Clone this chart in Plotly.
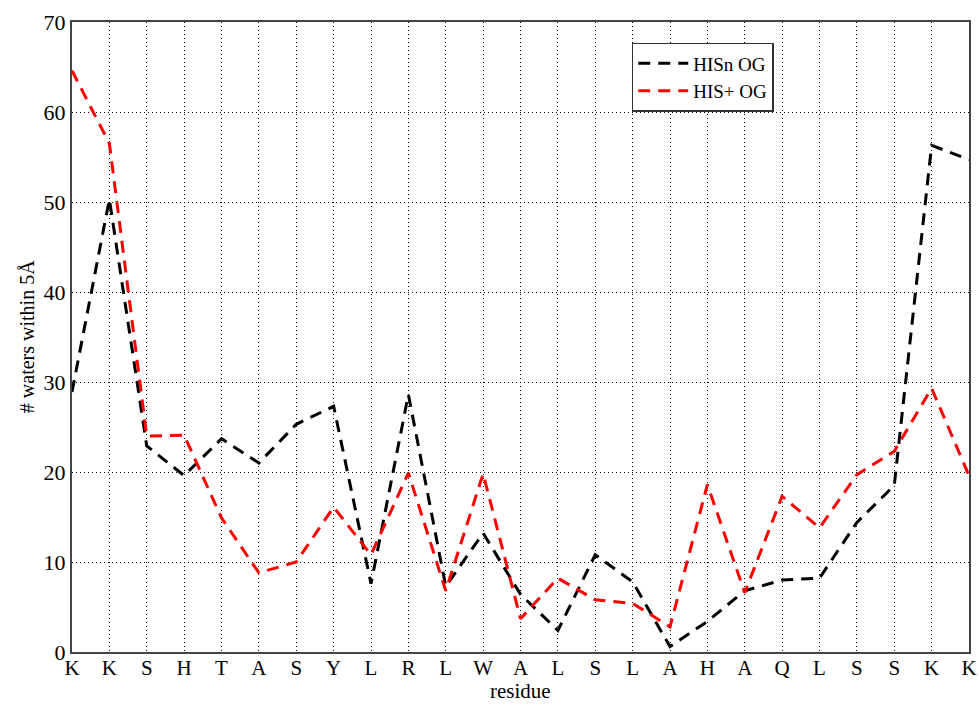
import plotly.graph_objects as go

residues = ["K", "K", "S", "H", "T", "A", "S", "Y", "L", "R", "L", "W", "A",
            "L", "S", "L", "A", "H", "A", "Q", "L", "S", "S", "K", "K"]
his_n = [28.9, 50.3, 22.9, 19.6, 23.7, 21.0, 25.3, 27.3, 7.6, 28.6, 7.3, 13.2, 6.4,
         2.4, 10.8, 7.8, 0.6, 3.4, 6.8, 8.0, 8.2, 14.4, 18.5, 56.3, 54.7]
his_p = [64.6, 56.5, 24.0, 24.1, 14.9, 8.8, 10.0, 16.1, 10.8, 19.9, 6.8, 19.8, 3.7,
         8.2, 5.8, 5.4, 2.8, 18.6, 6.6, 17.3, 13.8, 19.7, 22.3, 29.3, 19.6]
series_names = ["HISn OG", "HIS+ OG"]
colors = ["black", "red"]

x = list(range(len(residues)))
fig = go.Figure()
for name, vals, col in zip(series_names, [his_n, his_p], colors):
    fig.add_trace(go.Scatter(x=x, y=vals, mode="lines", name=name,
                             line=dict(color=col, width=3, dash="12px,8px")))

font = dict(family="Liberation Serif, Times New Roman, serif", color="black")
fig.update_layout(
    width=979, height=706,
    margin=dict(l=72, r=10, t=22, b=54),
    paper_bgcolor="white", plot_bgcolor="white",
    font=dict(size=21, **font),
    showlegend=True,
    legend=dict(x=0.624, y=0.967, xanchor="left", yanchor="top",
                bordercolor="#333", borderwidth=1.5, bgcolor="white",
                font=dict(size=19, **font), tracegroupgap=0,
                itemwidth=50),
    annotations=[
        dict(text="residue", xref="paper", yref="paper", x=0.5, y=-0.0835,
             xanchor="center", yanchor="bottom", showarrow=False,
             font=dict(size=21, **font)),
        dict(text="# waters within 5Å", xref="paper", yref="paper", x=-0.050, y=0.5,
             xanchor="center", yanchor="middle", textangle=-90, showarrow=False,
             font=dict(size=20, **font)),
    ],
)
fig.update_xaxes(
    tickmode="array", tickvals=x, ticktext=residues,
    range=[0, len(residues) - 1], automargin=False,
    showgrid=True, gridcolor="black", griddash="1px,3px", gridwidth=1.3,
    showline=True, linecolor="#444", linewidth=2, mirror=True,
    ticks="", tickfont=dict(size=21, **font), ticklabelstandoff=-4,
    zeroline=False,
)
fig.update_yaxes(
    range=[0, 70], dtick=10, automargin=False,
    showgrid=True, gridcolor="black", griddash="1px,3px", gridwidth=1.3,
    showline=True, linecolor="#444", linewidth=2, mirror=True,
    ticks="", tickfont=dict(size=22, **font),
    zeroline=False,
)
fig.write_html("out.html")
